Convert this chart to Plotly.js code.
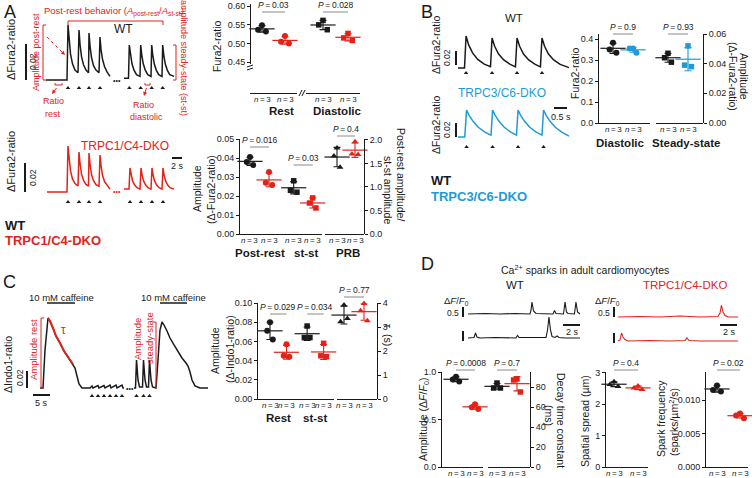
<!DOCTYPE html>
<html>
<head>
<meta charset="utf-8">
<script src="https://cdn.plot.ly/plotly-3.0.1.min.js"></script>
<style>
  html, body { margin: 0; padding: 0; background: #fff; }
  #fig { width: 752px; height: 478px; }
</style>
</head>
<body>
<div id="fig"></div>
<script>
// ---- values ----

// A: Fura-2 transients after rest and at steady state (t in s, ΔFura2-ratio)
var aWT_t = [0.4, 4.4, 4.6, 4.8, 5.0, 5.3, 5.7, 6.2, 6.8, 7.0, 7.2, 7.5, 7.9, 8.4, 8.9, 9.0, 9.2, 9.5, 9.9, 10.4, 11.0, 11.2, 11.4, 11.7, 12.1, 12.6, 13.2, 14.5, 16.0, 16.9, 17.06, 17.3, 17.6, 18.0, 18.5, 19.2, 19.34, 19.55, 19.85, 20.25, 20.75, 21.4, 21.54, 21.75, 22.05, 22.45, 22.95, 23.6, 23.74, 23.95, 24.25, 24.65, 25.15, 26.0];
var aWT_v = [0, 0, 0, 0.0306, 0.022, 0.0145, 0.009, 0.0055, 0.004, 0.0278, 0.020, 0.013, 0.0085, 0.0055, 0.004, 0.0261, 0.019, 0.0125, 0.008, 0.0055, 0.004, 0.0239, 0.017, 0.0115, 0.0075, 0.0045, 0.002, null, 0.001, 0.001, 0.0194, 0.014, 0.009, 0.0055, 0.003, 0.002, 0.0194, 0.014, 0.009, 0.0055, 0.003, 0.002, 0.0194, 0.014, 0.009, 0.0055, 0.003, 0.002, 0.0194, 0.014, 0.009, 0.0055, 0.003, 0.002];
var aKO_t = [0.6, 4.4, 4.6, 4.8, 5.0, 5.3, 5.7, 6.2, 6.8, 7.0, 7.2, 7.5, 7.9, 8.4, 8.9, 9.0, 9.2, 9.5, 9.9, 10.4, 11.0, 11.2, 11.4, 11.7, 12.1, 12.6, 13.2, 14.5, 16.0, 17.0, 17.2, 17.4, 17.7, 18.1, 18.6, 19.2, 19.4, 19.6, 19.9, 20.3, 20.8, 21.4, 21.6, 21.8, 22.1, 22.5, 23.0, 23.6, 23.8, 24.0, 24.3, 24.7, 25.2, 26.0];
var aKO_v = [0, 0, 0, 0.0317, 0.023, 0.0145, 0.009, 0.0058, 0.0042, 0.0276, 0.020, 0.0125, 0.008, 0.0052, 0.004, 0.0269, 0.0195, 0.012, 0.0078, 0.005, 0.004, 0.0255, 0.0185, 0.0115, 0.0072, 0.0045, 0.002, null, 0.002, 0.002, 0.0166, 0.012, 0.0078, 0.005, 0.003, 0.002, 0.0166, 0.012, 0.0078, 0.005, 0.003, 0.002, 0.0166, 0.012, 0.0078, 0.005, 0.003, 0.002, 0.0166, 0.012, 0.0078, 0.005, 0.003, 0.002];
var aWT_stim = [4.8, 7.0, 9.0, 11.2, 17.06, 19.34, 21.54, 23.74];
var aKO_stim = [4.8, 7.0, 9.0, 11.2, 17.2, 19.4, 21.6, 23.8];

// A: dot plots
var aRestWT = [0.549, 0.537, 0.532], aRestKO = [0.520, 0.505, 0.500];
var aDiaWT = [0.562, 0.550, 0.537], aDiaKO = [0.527, 0.515, 0.508];
var aPostWT = [0.0405, 0.0379, 0.0363], aPostKO = [0.0326, 0.027, 0.0258];
var aSsWT = [0.028, 0.023, 0.022], aSsKO = [0.019, 0.0163, 0.0137];
var aPrbWT = [1.83, 1.66, 1.42], aPrbKO = [1.96, 1.70, 1.69];

// B: traces at 1 Hz
var bWT_t = [0, 0.25, 0.31, 0.41, 0.56, 0.76, 1.01, 1.25, 1.31, 1.41, 1.56, 1.76, 2.01, 2.21, 2.27, 2.37, 2.52, 2.72, 2.97, 3.17, 3.23, 3.33, 3.48, 3.68, 3.93, 4.27];
var bWT_v = [0, 0, 0.0457, 0.033, 0.0215, 0.0123, 0.0055, 0.0018, 0.0429, 0.031, 0.020, 0.0116, 0.0051, 0.0017, 0.0429, 0.031, 0.020, 0.0116, 0.0051, 0.0017, 0.0429, 0.031, 0.020, 0.0116, 0.0051, 0.0005];
var bKO_t = [0, 0.26, 0.33, 0.43, 0.58, 0.78, 1.03, 1.27, 1.33, 1.43, 1.58, 1.78, 2.03, 2.25, 2.31, 2.41, 2.56, 2.76, 3.01, 3.23, 3.29, 3.39, 3.54, 3.74, 3.99, 4.27];
var bKO_v = [0, 0, 0.0386, 0.031, 0.0224, 0.0139, 0.0069, 0.0027, 0.0386, 0.031, 0.0224, 0.0139, 0.0069, 0.0027, 0.0386, 0.031, 0.0224, 0.0139, 0.0069, 0.0027, 0.0386, 0.031, 0.0224, 0.0139, 0.0069, 0.0012];
var bWT_stim = [0.31, 1.31, 2.27, 3.23];
var bKO_stim = [0.33, 1.33, 2.31, 3.29];
var bDiaWT = [0.382, 0.350, 0.335], bDiaKO = [0.355, 0.355, 0.335];
var bSsWT = [0.047, 0.044, 0.041], bSsKO = [0.052, 0.039, 0.038];

// C: Indo-1, caffeine protocol
var cT = [0.59, 1.47, 2.06, 2.65, 2.94, 3.53, 4.41, 5.29, 6.47, 7.65, 8.82, 9.71, 10.29, 10.88, 11.47, 12.06, 12.94, 15.29, 15.88, 16.18, 17.65, 17.94, 19.41, 19.71, 21.18, 21.47, 22.94, 23.24, 24.71, 25.0, 25.29, 27.0, 28.24, 28.68, 28.97, 29.41, 29.85, 30.74, 31.03, 31.47, 31.91, 32.5, 32.79, 33.24, 33.68, 34.71, 35.29, 35.88, 36.47, 37.06, 37.94, 38.82, 40.0, 41.18, 42.35, 43.53, 44.12, 44.71, 45.29, 46.18, 47.65, 50.0];
var cV = [0, 0, 0.0447, 0.0776, 0.0824, 0.0788, 0.0706, 0.0612, 0.0529, 0.0435, 0.0365, 0.0306, 0.0282, 0.0235, 0.0141, 0.0047, 0, 0, 0.0024, 0, 0.0028, 0, 0.0028, 0, 0.0035, 0, 0.0035, 0, 0.0035, 0, 0, null, 0, 0, 0.0329, 0.0094, 0.0012, 0.0012, 0.0329, 0.0094, 0.0012, 0.0012, 0.0329, 0.0094, 0.0012, 0, 0.0329, 0.0682, 0.0776, 0.0741, 0.0671, 0.0588, 0.0506, 0.0424, 0.0353, 0.0294, 0.0259, 0.0188, 0.0094, 0.0024, 0, 0];
var cStim = [15.88, 17.65, 19.41, 21.18, 22.94, 24.71, 28.97, 31.03, 32.79];
var cCaffeine = [[2.65, 10.88], [35.88, 43.82]];
var cTauFit = [2.94, 10.29];
var cRestWT = [0.080, 0.071, 0.062], cRestKO = [0.057, 0.045, 0.044];
var cSsWT = [0.076, 0.064, 0.064], cSsKO = [0.058, 0.045, 0.044];
var cTauWT = [3.92, 3.22, 3.35], cTauKO = [3.98, 3.68, 3.26];

// D: Ca2+ sparks (t in s, ΔF/F0)
var dWT1_t = [0.24, 2.24, 4.0, 5.76, 7.53, 7.65, 7.76, 7.94, 8.24, 10.24, 10.41, 10.59, 11.47, 11.65, 11.82, 12.0, 12.76, 12.94, 13.12, 13.41];
var dWT1_v = [0, 0.025, 0, 0.025, 0, 0.2, 0.6, 0.15, 0.025, 0, 0.175, 0.025, 0, 0.6, 0.1, 0.025, 0, 0.6, 0.1, 0];
var dWT2_t = [0.24, 0.94, 1.12, 1.29, 1.65, 3.41, 5.88, 6.06, 6.24, 8.71, 9.41, 9.59, 9.76, 9.94, 10.12, 10.47, 10.71, 10.94, 11.65, 13.41];
var dWT2_v = [0, 0.025, 0.25, 0.05, 0, 0.025, 0, 0.125, 0.025, 0, 0.025, 0.4, 1.05, 0.4, 0.075, 0.025, 0.1, 0.025, 0, 0];
var dKO1_t = [0.24, 2.82, 5.18, 7.53, 9.88, 12.0, 12.24, 12.41, 12.59, 12.82, 13.18, 14.35];
var dKO1_v = [0, 0.025, 0, 0.05, 0, 0.025, 0.2, 0.6, 0.25, 0.075, 0, 0];
var dKO2_t = [0.24, 0.47, 0.65, 0.82, 1.06, 1.41, 4.0, 6.35, 8.12, 8.35, 8.59, 9.88, 14.35];
var dKO2_v = [0, 0.05, 0.4, 0.2, 0.075, 0, 0.025, 0, 0.025, 0.15, 0.025, 0, 0];
var dAmpWT = [0.95, 0.92, 0.90], dAmpKO = [0.66, 0.63, 0.61];
var dDecWT = [84, 79, 79], dDecKO = [88, 87, 75];
var dSprWT = [2.72, 2.63, 2.57], dSprKO = [2.58, 2.52, 2.47];
var dFrqWT = [0.0122, 0.0115, 0.0113], dFrqKO = [0.0080, 0.0077, 0.0073];

// ---- page set-up ----
var W = 752, H = 478;
var BLACK = '#1a1a1a', RED = '#e2231a', BLUE = '#1e9bd7', GREY = '#8a8a8a';
var FONT = 'Liberation Sans, Arial, sans-serif';
var NLAB = '<i>n</i>\u2009=\u20093';

function fx(p) { return p / W; }
function fy(p) { return 1 - p / H; }

var layout = {
  width: W, height: H,
  margin: {l: 0, r: 0, t: 0, b: 0},
  paper_bgcolor: '#fff', plot_bgcolor: 'rgba(0,0,0,0)',
  showlegend: false,
  font: {family: FONT, size: 9, color: BLACK},
  shapes: [], annotations: []
};
var data = [];
var nx = 0, ny = 0;

function addX(o) { nx++; var k = nx === 1 ? '' : nx; layout['xaxis' + k] = o; return 'x' + k; }
function addY(o) { ny++; var k = ny === 1 ? '' : ny; layout['yaxis' + k] = o; return 'y' + k; }

// hidden axes for the recordings, scaled like the figure (pixels per unit)
function hx(l, r, ppu) {
  var id = addX({domain: [fx(l), fx(r)], range: [0, (r - l) / ppu], visible: false, anchor: 'free', position: 0, fixedrange: true});
  return {id: id, px: function (v) { return l + v * ppu; }};
}
function hy(top, bottom, base, ppu) {
  var id = addY({domain: [fy(bottom), fy(top)], range: [(base - bottom) / ppu, (base - top) / ppu], visible: false, anchor: 'free', position: 0, fixedrange: true});
  return {id: id, px: function (v) { return base - v * ppu; }, val: function (p) { return (base - p) / ppu; }};
}

function dotY(top, bottom, range, axisPx, tickvals, ticktext, side) {
  return addY({
    domain: [fy(bottom), fy(top)], range: range, anchor: 'free', position: fx(axisPx), side: side || 'left',
    showline: true, linecolor: BLACK, linewidth: 1, ticks: 'outside', ticklen: 3, tickwidth: 1, tickcolor: BLACK,
    tickvals: tickvals, ticktext: ticktext, tickfont: {size: 9}, showgrid: false, zeroline: false, fixedrange: true
  });
}
// group x axis; the "n = 3" labels sit just under the line
function dotX(l, r, axisPy, px0, unit, slots) {
  var id = addX({
    domain: [fx(l), fx(r)], range: [(l - px0) / unit, (r - px0) / unit], anchor: 'free', position: fy(axisPy),
    showline: true, linecolor: BLACK, linewidth: 1, ticks: '', showticklabels: false,
    showgrid: false, zeroline: false, fixedrange: true
  });
  slots.forEach(function (s) {
    layout.annotations.push({xref: id, yref: 'paper', x: s, y: fy(axisPy + 6.5), yanchor: 'middle', text: NLAB,
      showarrow: false, borderpad: 0, font: {size: 8}});
  });
  return id;
}

function mean(a) { var s = 0; a.forEach(function (v) { s += v; }); return s / a.length; }
function sd(a) { var m = mean(a), s = 0; a.forEach(function (v) { s += (v - m) * (v - m); }); return Math.sqrt(s / (a.length - 1)); }

var JIT = [0, -0.17, 0.17];
function group(xid, yid, pos, vals, color, symbol) {
  data.push({type: 'scatter', mode: 'markers', xaxis: xid, yaxis: yid,
    x: vals.map(function (v, i) { return pos + JIT[i]; }), y: vals,
    marker: {symbol: symbol, size: symbol === 'square' ? 5.5 : 6, color: color}, cliponaxis: false, hoverinfo: 'skip'});
  data.push({type: 'scatter', mode: 'markers', xaxis: xid, yaxis: yid, x: [pos], y: [mean(vals)],
    marker: {symbol: 'line-ew', size: 18, color: color, line: {color: color, width: 1.2}},
    error_y: {type: 'data', array: [sd(vals)], visible: true, color: color, thickness: 1.1, width: 3.5},
    cliponaxis: false, hoverinfo: 'skip'});
}
function pval(xid, x0, x1, lineY, text) {
  layout.shapes.push({type: 'line', xref: xid, yref: 'paper', x0: x0, x1: x1, y0: fy(lineY), y1: fy(lineY), line: {color: GREY, width: 1}});
  layout.annotations.push({xref: xid, yref: 'paper', x: (x0 + x1) / 2, y: fy(lineY - 1), yanchor: 'bottom', borderpad: 0,
    text: '<i>P</i>\u2009=\u2009' + text, showarrow: false, font: {size: 8.5}});
}
function txt(x, y, text, o) {
  o = o || {};
  layout.annotations.push({xref: 'paper', yref: 'paper', x: fx(x), y: fy(y), text: text, showarrow: false,
    textangle: o.angle || 0, xanchor: o.xanchor || 'center', yanchor: 'middle', borderpad: 0,
    font: {size: o.size || 10.5, color: o.color || BLACK}});
}
function seg(x0, y0, x1, y1, color, width, dash) {
  layout.shapes.push({type: 'line', xref: 'paper', yref: 'paper', x0: fx(x0), y0: fy(y0), x1: fx(x1), y1: fy(y1),
    line: {color: color || BLACK, width: width || 1, dash: dash || 'solid'}});
}
function arrow(hx0, hy0, tx, ty, color) {
  layout.annotations.push({xref: 'paper', yref: 'paper', x: fx(hx0), y: fy(hy0), ax: tx - hx0, ay: ty - hy0, text: ' ',
    font: {size: 1}, showarrow: true, arrowhead: 2, arrowsize: 0.8, arrowwidth: 1, arrowcolor: color});
}
function addLine(ax, ay, t, v, color, width) {
  data.push({type: 'scatter', mode: 'lines', xaxis: ax.id, yaxis: ay.id, x: t, y: v,
    line: {color: color, width: width || 1.5}, connectgaps: false, hoverinfo: 'skip'});
}
function addStim(ax, ay, t, py) {
  var yv = ay.val(py);
  data.push({type: 'scatter', mode: 'markers', xaxis: ax.id, yaxis: ay.id, x: t, y: t.map(function () { return yv; }),
    marker: {symbol: 'triangle-up', size: 4, color: BLACK}, hoverinfo: 'skip'});
}

// ================= A =================
txt(10, 12, 'A', {size: 18});
var aX = hx(44, 176, 5);
var aYwt = hy(20, 92, 80, 1800);
var aYko = hy(140, 205, 192, 1450);
addLine(aX, aYwt, aWT_t, aWT_v, BLACK);
addLine(aX, aYko, aKO_t, aKO_v, RED);
addStim(aX, aYwt, aWT_stim, 88);
addStim(aX, aYko, aKO_stim, 202);
txt(117, 81, '•••', {size: 7});
txt(117, 192, '•••', {size: 7, color: RED});

txt(11, 50, 'ΔFura2-ratio', {angle: -90, size: 11});
seg(26, aYwt.px(0), 26, aYwt.px(0.02), BLACK, 2);
txt(33, 62, '0.02', {angle: -90, size: 8.5});
txt(124, 29, 'WT', {size: 12});
txt(114, 12, 'Post-rest behavior (<i>A</i><sub>post-rest</sub>/<i>A</i><sub>st-st</sub>)', {size: 9.5, color: RED});
seg(68, 21, 163, 21, RED); seg(68, 21, 68, 25, RED); seg(163, 21, 163, 25, RED);
txt(36, 52, 'Amplitude post-rest', {angle: -90, size: 9, color: RED});
seg(43, 25, 43, 80, RED); seg(43, 25, 46, 25, RED); seg(43, 80, 46, 80, RED);
seg(47, 37, 62, 52, RED, 1, 'dot');
arrow(65, 55, 62, 52, RED);
seg(176, 45, 176, 80, RED); seg(173, 45, 176, 45, RED); seg(173, 80, 176, 80, RED);
txt(184, 58, 'amplitude steady-state (st-st)', {angle: 90, size: 9, color: RED});
seg(55, 83, 55, 85, RED); seg(55, 85, 62, 85, RED); seg(62, 83, 62, 85, RED);
arrow(52, 94, 58, 86, RED);
txt(53, 101, 'Ratio', {size: 9, color: RED}); txt(53, 114, 'rest', {size: 9, color: RED});
seg(145, 83, 145, 85, RED); seg(145, 85, 150, 85, RED); seg(150, 83, 150, 85, RED);
arrow(144, 96, 147, 86, RED);
txt(143, 105, 'Ratio', {size: 9, color: RED}); txt(146, 117, 'diastolic', {size: 9, color: RED});

txt(11, 162, 'ΔFura2-ratio', {angle: -90, size: 11});
seg(25, aYko.px(0), 25, aYko.px(0.02), BLACK, 2);
txt(33, 178, '0.02', {angle: -90, size: 8.5});
txt(125, 146, 'TRPC1/C4-DKO', {size: 12, color: RED});
seg(172, 158, 172 + 2 * 5, 158, BLACK, 2);
txt(177, 166, '2 s', {size: 9});
txt(4, 225, '<b>WT</b>', {size: 13, xanchor: 'left'});
txt(4, 240, '<b>TRPC1/C4-DKO</b>', {size: 13, xanchor: 'left', color: RED});

// A: resting / diastolic ratio (broken axis)
var aTopYu = dotY(4, 64, [0.445, 0.606], 250, [0.45, 0.50, 0.55, 0.60], ['0.45', '0.50', '0.55', '0.60']);
var aTopYl = dotY(72, 93, [0, 0.0553], 250, [0, 0.05], ['0.00', '0.05']);
var aTopX1 = dotX(250, 297, 93, 262, 23, [0, 1]);
var aTopX2 = dotX(306, 360, 93, 323, 25, [0, 1]);
group(aTopX1, aTopYu, 0, aRestWT, BLACK, 'circle');
group(aTopX1, aTopYu, 1, aRestKO, RED, 'circle');
group(aTopX2, aTopYu, 0, aDiaWT, BLACK, 'square');
group(aTopX2, aTopYu, 1, aDiaKO, RED, 'square');
pval(aTopX1, 0, 1, 12, '0.03');
pval(aTopX2, 0, 1, 12, '0.028');
seg(247, 67, 253, 65); seg(247, 70, 253, 68);
seg(299, 96, 302, 90); seg(302, 96, 305, 90);
txt(217, 46, 'Fura2-ratio', {angle: -90, size: 10.5});
txt(281, 111, '<b>Rest</b>', {size: 11.5});
txt(337, 111, '<b>Diastolic</b>', {size: 11.5});

// A: amplitudes and post-rest behaviour
var aBotYl = dotY(139, 234, [0, 0.05], 239, [0, 0.01, 0.02, 0.03, 0.04, 0.05], ['0.00', '0.01', '0.02', '0.03', '0.04', '0.05']);
var aBotYr = dotY(139, 234, [0, 2.02], 364, [0, 0.5, 1, 1.5, 2], ['0.0', '0.5', '1.0', '1.5', '2.0'], 'right');
var aBotX1 = dotX(239, 322, 234, 250, 19, [0, 1, 2.3, 3.3]);
var aBotX2 = dotX(325, 364, 234, 337, 18, [0, 1]);
group(aBotX1, aBotYl, 0, aPostWT, BLACK, 'circle');
group(aBotX1, aBotYl, 1, aPostKO, RED, 'circle');
group(aBotX1, aBotYl, 2.3, aSsWT, BLACK, 'square');
group(aBotX1, aBotYl, 3.3, aSsKO, RED, 'square');
group(aBotX2, aBotYr, 0, aPrbWT, BLACK, 'triangle-up');
group(aBotX2, aBotYr, 1, aPrbKO, RED, 'triangle-up');
pval(aBotX1, 0, 1, 147, '0.016');
pval(aBotX1, 2.3, 3.3, 165, '0.03');
pval(aBotX2, 0, 1, 136, '0.4');
txt(197, 189, 'Amplitude', {angle: -90, size: 10.5});
txt(211, 190, '(Δ-Fura2-ratio)', {angle: -90, size: 10.5});
txt(401, 174, 'Post-rest amplitude/', {angle: 90, size: 10.5});
txt(388, 190, 'st-st amplitude', {angle: 90, size: 10.5});
txt(260, 253, '<b>Post-rest</b>', {size: 11.5});
txt(306, 253, '<b>st-st</b>', {size: 11.5});
txt(348, 253, '<b>PRB</b>', {size: 11.5});

// ================= B =================
txt(427, 12, 'B', {size: 18});
var bX = hx(458, 570, 26);
var bYwt = hy(25, 78, 68, 700);
var bYko = hy(100, 152, 137, 700);
addLine(bX, bYwt, bWT_t, bWT_v, BLACK);
addLine(bX, bYko, bKO_t, bKO_v, BLUE);
addStim(bX, bYwt, bWT_stim, 73);
addStim(bX, bYko, bKO_stim, 147);
txt(514, 18, 'WT', {size: 11.5});
txt(502, 93, 'TRPC3/C6-DKO', {size: 12, color: BLUE});
txt(436, 45, 'ΔFura2-ratio', {angle: -90, size: 10.5});
txt(436, 125, 'ΔFura2-ratio', {angle: -90, size: 10.5});
seg(456, 65, 456, 65 - 0.02 * 700, BLACK, 2);
txt(447, 58, '0.02', {angle: -90, size: 8.5});
seg(456, 137, 456, 137 - 0.02 * 700, BLACK, 2);
txt(447, 130, '0.02', {angle: -90, size: 8.5});
seg(554, 108, 554 + 0.5 * 26, 108, BLACK, 2);
txt(561, 117, '0.5 s', {size: 9});
txt(430, 181, '<b>WT</b>', {size: 13, xanchor: 'left'});
txt(430, 196, '<b>TRPC3/C6-DKO</b>', {size: 13, xanchor: 'left', color: BLUE});

var bYl = dotY(34, 123, [0, 0.4238], 598, [0, 0.1, 0.2, 0.3, 0.4], ['0.0', '0.1', '0.2', '0.3', '0.4']);
var bYr = dotY(34, 123, [0, 0.06], 703, [0, 0.02, 0.04, 0.06], ['0.00', '0.02', '0.04', '0.06'], 'right');
var bX1 = dotX(598, 650, 123, 613, 20, [0, 1]);
var bX2 = dotX(656, 703, 123, 668, 20, [0, 1]);
group(bX1, bYl, 0, bDiaWT, BLACK, 'circle');
group(bX1, bYl, 1, bDiaKO, BLUE, 'circle');
group(bX2, bYr, 0, bSsWT, BLACK, 'square');
group(bX2, bYr, 1, bSsKO, BLUE, 'square');
pval(bX1, 0, 1, 34, '0.9');
pval(bX2, 0, 1, 34, '0.93');
txt(575, 73, 'Fura2-ratio', {angle: -90, size: 10.5});
txt(744, 76, 'Amplitude', {angle: 90, size: 10.5});
txt(733, 76, '(Δ-Fura2-ratio)', {angle: 90, size: 10.5});
txt(620, 143, '<b>Diastolic</b>', {size: 11.5});
txt(686, 143, '<b>Steady-state</b>', {size: 11.5});

// ================= C =================
txt(9, 282, 'C', {size: 18});
var cX = hx(38, 212, 3.4);
var cY = hy(300, 402, 388, 850);
addLine(cX, cY, cT, cV, BLACK);
var tauT = [], tauV = [];
cT.forEach(function (t, i) { if (t >= cTauFit[0] && t <= cTauFit[1]) { tauT.push(t); tauV.push(cV[i]); } });
addLine(cX, cY, tauT, tauV, RED, 2);
addStim(cX, cY, cStim, 396);
txt(129.5, 388, '•••', {size: 7});
cCaffeine.forEach(function (c) {
  var x0 = cX.px(c[0]), x1 = cX.px(c[1]);
  seg(x0, 303, x1, 303, BLACK, 1.5);
  txt((x0 + x1) / 2, 297, '10 mM caffeine', {size: 9.5});
});
txt(33, 350, 'Amplitude rest', {angle: -90, size: 9.5, color: RED});
seg(41, cY.px(0.0824), 41, cY.px(0), RED); seg(41, cY.px(0.0824), 44, cY.px(0.0824), RED); seg(41, cY.px(0), 44, cY.px(0), RED);
txt(63, 330, 'τ', {size: 12, color: RED});
txt(137, 339, 'Amplitude', {angle: -90, size: 9.5, color: RED});
txt(149, 338, 'steady-state', {angle: -90, size: 9.5, color: RED});
seg(156, cY.px(0.0776), 156, cY.px(0), RED); seg(153, cY.px(0.0776), 156, cY.px(0.0776), RED);
txt(8, 365, 'ΔIndo1-ratio', {angle: -90, size: 10.5});
seg(27, 388, 27, 388 - 0.02 * 850, BLACK, 2);
txt(20, 378, '0.02', {angle: -90, size: 8.5});
seg(33, 395, 33 + 5 * 3.4, 395, BLACK, 2);
txt(41, 403, '5 s', {size: 9});

var cYl = dotY(303, 399, [0, 0.1], 257, [0, 0.02, 0.04, 0.06, 0.08, 0.1], ['0.00', '0.02', '0.04', '0.06', '0.08', '0.10']);
var cYr = dotY(303, 399, [0, 4], 377, [0, 1, 2, 3, 4], ['0', '1', '2', '3', '4'], 'right');
var cX1 = dotX(257, 334, 399, 270, 16.5, [0, 1, 2.25, 3.25]);
var cX2 = dotX(337, 377, 399, 344, 20, [0, 1]);
group(cX1, cYl, 0, cRestWT, BLACK, 'circle');
group(cX1, cYl, 1, cRestKO, RED, 'circle');
group(cX1, cYl, 2.25, cSsWT, BLACK, 'square');
group(cX1, cYl, 3.25, cSsKO, RED, 'square');
group(cX2, cYr, 0, cTauWT, BLACK, 'triangle-up');
group(cX2, cYr, 1, cTauKO, RED, 'triangle-up');
pval(cX1, 0, 1, 314, '0.029');
pval(cX1, 2.25, 3.25, 314, '0.034');
pval(cX2, 0, 1, 297, '0.77');
txt(215, 351, 'Amplitude', {angle: -90, size: 10.5});
txt(230, 349, '(Δ-Indo1-ratio)', {angle: -90, size: 10.5});
txt(388, 335, 'τ  (s)', {angle: 90, size: 10.5});
txt(278, 418, '<b>Rest</b>', {size: 11.5});
txt(315, 418, '<b>st-st</b>', {size: 11.5});

// ================= D =================
txt(427, 264, 'D', {size: 18});
txt(585, 269, 'Ca<sup>2+</sup> sparks in adult cardiomyocytes', {size: 10.5});
var dXwt = hx(466, 582, 8.5);
var dXko = hx(616, 742, 8.5);
var dYwt1 = hy(298, 320, 314, 20), dYwt2 = hy(312, 345, 338, 20);
var dYko1 = hy(300, 323, 317, 20), dYko2 = hy(325, 348, 341, 20);
addLine(dXwt, dYwt1, dWT1_t, dWT1_v, BLACK, 1.1);
addLine(dXwt, dYwt2, dWT2_t, dWT2_v, BLACK, 1.1);
addLine(dXko, dYko1, dKO1_t, dKO1_v, RED, 1.1);
addLine(dXko, dYko2, dKO2_t, dKO2_v, RED, 1.1);
txt(515, 285, 'WT', {size: 11.5});
txt(685, 285, 'TRPC1/C4-DKO', {size: 11.5, color: RED});
txt(456, 301, 'Δ<i>F</i>/<i>F</i><sub>0</sub>', {size: 9.5});
txt(453, 313, '0.5', {size: 8.5});
seg(463, 317, 463, 317 - 0.5 * 20, BLACK, 2); seg(463, 341, 463, 341 - 0.5 * 20, BLACK, 2);
txt(607, 301, 'Δ<i>F</i>/<i>F</i><sub>0</sub>', {size: 9.5});
txt(604, 313, '0.5', {size: 8.5});
seg(614, 317, 614, 317 - 0.5 * 20, BLACK, 2); seg(614, 343, 614, 343 - 0.5 * 20, BLACK, 2);
seg(563, 325, 563 + 2 * 8.5, 325, BLACK, 2); txt(572, 332, '2 s', {size: 9});
seg(720, 325, 720 + 2 * 8.5, 325, BLACK, 2); txt(729, 332, '2 s', {size: 9});

var dYamp = dotY(372, 467, [0, 1.0], 441, [0, 0.5, 1.0], ['0.0', '0.5', '1.0']);
var dXamp = dotX(441, 483, 467, 456, 19, [0, 1]);
group(dXamp, dYamp, 0, dAmpWT, BLACK, 'circle');
group(dXamp, dYamp, 1, dAmpKO, RED, 'circle');
pval(dXamp, 0, 1, 370, '0.0008');
txt(424, 420, 'Amplitude (Δ<i>F</i>/<i>F</i><sub>0</sub>)', {angle: -90, size: 10.5});

var dYdec = dotY(372, 467, [0, 95], 530, [0, 20, 40, 60, 80], ['0', '20', '40', '60', '80'], 'right');
var dXdec = dotX(488, 530, 467, 497, 20, [0, 1]);
group(dXdec, dYdec, 0, dDecWT, BLACK, 'square');
group(dXdec, dYdec, 1, dDecKO, RED, 'square');
pval(dXdec, 0, 1, 370, '0.7');
txt(561, 420, 'Decay time constant', {angle: 90, size: 10.5});
txt(549, 415, '(ms)', {angle: 90, size: 10.5});

var dYspr = dotY(372, 467, [0, 3.03], 605, [0, 1, 2, 3], ['0', '1', '2', '3']);
var dXspr = dotX(605, 648, 467, 614, 24, [0, 1]);
group(dXspr, dYspr, 0, dSprWT, BLACK, 'triangle-up');
group(dXspr, dYspr, 1, dSprKO, RED, 'triangle-up');
pval(dXspr, 0, 1, 370, '0.4');
txt(585, 421, 'Spatial spread (µm)', {angle: -90, size: 10.5});

var dYfrq = dotY(372, 467, [0, 0.0142], 705, [0, 0.005, 0.01], ['0.000', '0.005', '0.010']);
var dXfrq = dotX(705, 748, 467, 717, 23, [0, 1]);
group(dXfrq, dYfrq, 0, dFrqWT, BLACK, 'circle');
group(dXfrq, dYfrq, 1, dFrqKO, RED, 'circle');
pval(dXfrq, 0, 1, 370, '0.02');
txt(661, 419, 'Spark frequency', {angle: -90, size: 10.5});
txt(673, 422, '(sparks/µm<sup>2</sup>/s)', {angle: -90, size: 10.5});

Plotly.newPlot('fig', data, layout, {staticPlot: true, displayModeBar: false});
</script>
</body>
</html>
